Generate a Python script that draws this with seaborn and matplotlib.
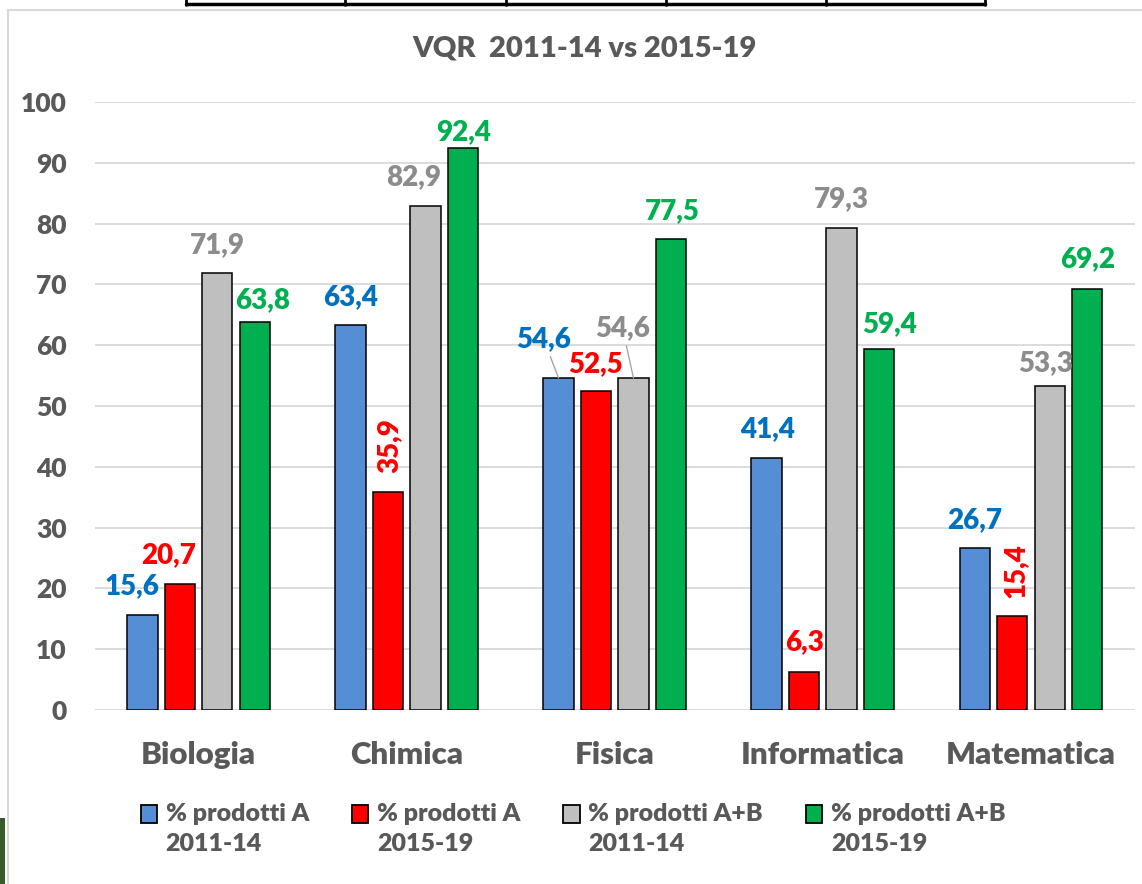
import matplotlib
matplotlib.use("Agg")
import matplotlib.pyplot as plt
import seaborn as sns
import pandas as pd
from matplotlib.patches import Rectangle
from matplotlib.lines import Line2D
from matplotlib.legend_handler import HandlerPatch

# ---- data ----
categories = ["Biologia", "Chimica", "Fisica", "Informatica", "Matematica"]
series = ["% prodotti A\n2011-14", "% prodotti A\n2015-19",
          "% prodotti A+B\n2011-14", "% prodotti A+B\n2015-19"]
a_2011 = [15.6, 63.4, 54.6, 41.4, 26.7]
a_2015 = [20.7, 35.9, 52.5, 6.3, 15.4]
ab_2011 = [71.9, 82.9, 54.6, 79.3, 53.3]
ab_2015 = [63.8, 92.4, 77.5, 59.4, 69.2]
title = "VQR  2011-14 vs 2015-19"
yticks = [0, 10, 20, 30, 40, 50, 60, 70, 80, 90, 100]

# ---- style ----
bar_colors = ["#558ED5", "#FF0000", "#BFBFBF", "#00B050"]
label_colors = ["#0070C0", "#FF0000", "#8C8C8C", "#00B050"]
# label offsets in pixels (dx, dy) relative to bar top centre; rotation; leader line
label_style = [
    [(-10, 29, 0, False), (0, 27, 0, False), (-15, 39, 0, True), (1, 29, 0, False), (0, 28, 0, False)],
    [(-11, 29, 0, False), (2, 46, 90, False), (0, 27, 0, False), (0, 30, 0, False), (3, 46, 90, False)],
    [(0, 28, 0, False), (-12, 29, 0, False), (-11, 50, 0, True), (0, 29, 0, False), (-4, 23, 0, False)],
    [(8, 22, 0, False), (1, 16, 0, False), (1, 28, 0, False), (11, 25, 0, False), (0, 30, 0, False)],
]

FONT = ["Lato", "DejaVu Sans"]
TXT = "#595959"
WT = "heavy"

sns.set_theme(style="white")
plt.rcParams["font.family"] = FONT
plt.rcParams["font.weight"] = WT

rows = []
for s, vals in zip(series, [a_2011, a_2015, ab_2011, ab_2015]):
    for c, v in zip(categories, vals):
        rows.append({"cat": c, "serie": s, "val": v})
df = pd.DataFrame(rows)

W, H = 1142, 884
fig = plt.figure(figsize=(W / 100, H / 100), dpi=100)
fig.patch.set_facecolor("white")

ax = fig.add_axes([94.5 / W, (H - 710) / H, (1135 - 94.5) / W, (710 - 102) / H])
sns.barplot(data=df, x="cat", y="val", hue="serie", hue_order=series,
            order=categories, palette=bar_colors, width=0.72, gap=0.19,
            edgecolor="black", linewidth=1.1, saturation=1, ax=ax)
if ax.get_legend() is not None:
    ax.get_legend().remove()

ax.set_ylim(0, 100)
ax.set_xlim(-0.5, len(categories) - 0.5)
ax.set_yticks(yticks)
ax.set_xlabel("")
ax.set_ylabel("")
for sp in ax.spines.values():
    sp.set_visible(False)
ax.set_axisbelow(True)
ax.yaxis.grid(True, color="#D9D9D9", linewidth=1.3)
ax.xaxis.grid(False)
ax.tick_params(axis="y", length=0, pad=20, labelsize=19, labelcolor=TXT)
ax.tick_params(axis="x", length=0, pad=22, labelsize=22.5, labelcolor=TXT)
for t in ax.get_yticklabels() + ax.get_xticklabels():
    t.set_fontweight(WT)

# data labels
for si, cont in enumerate(ax.containers):
    for ci, patch in enumerate(cont.patches):
        v = patch.get_height()
        x = patch.get_x() + patch.get_width() / 2
        dx, dy, rot, leader = label_style[si][ci]
        txt = f"{v:.1f}".replace(".", ",")
        kw = {}
        if leader:
            kw["arrowprops"] = dict(arrowstyle="-", color="#A6A6A6", lw=1.0,
                                    shrinkA=1, shrinkB=0)
        ax.annotate(txt, xy=(x, v), xytext=(dx, dy), textcoords="offset pixels",
                    ha="center", va="center", rotation=rot, fontsize=20,
                    fontweight=WT, color=label_colors[si], **kw)

fig.text(585 / W, (H - 48) / H, title, ha="center", va="center",
         fontsize=21, fontweight=WT, color=TXT)


def top_aligned_rect(legend, orig_handle, xdescent, ydescent, width, height, fontsize):
    return Rectangle((-xdescent, -ydescent + 0.62 * fontsize), width, height)


handles = [Rectangle((0, 0), 1, 1, facecolor=c, edgecolor="black", linewidth=1.3)
           for c in bar_colors]
leg = fig.legend(handles, series, loc="center", bbox_to_anchor=(573 / W, (H - 829) / H),
                 ncol=4, frameon=False, fontsize=18, handlelength=0.65, handleheight=0.75,
                 handletextpad=0.35, columnspacing=1.72, labelcolor=TXT,
                 handler_map={Rectangle: HandlerPatch(patch_func=top_aligned_rect)})
for t in leg.get_texts():
    t.set_fontweight(WT)
    t.set_linespacing(1.45)

# chart border and surrounding artefacts
fig.add_artist(Line2D([8 / W, 8 / W], [0, (H - 10) / H], color="#D9D9D9", lw=1.5))
fig.add_artist(Line2D([8 / W, 1], [(H - 10) / H, (H - 10) / H], color="#D9D9D9", lw=1.5))
fig.add_artist(Line2D([186 / W, 985 / W], [(H - 3.5) / H] * 2, color="black", lw=2.5))
for xx in [186, 345, 506, 666, 826, 985]:
    fig.add_artist(Line2D([xx / W] * 2, [(H - 5) / H, 1], color="black", lw=2))
fig.add_artist(Rectangle((0, 0), 5 / W, 66 / H, transform=fig.transFigure,
                         facecolor="#3B5A2B", edgecolor="none"))

fig.savefig("out.png", dpi=100, facecolor="white")
